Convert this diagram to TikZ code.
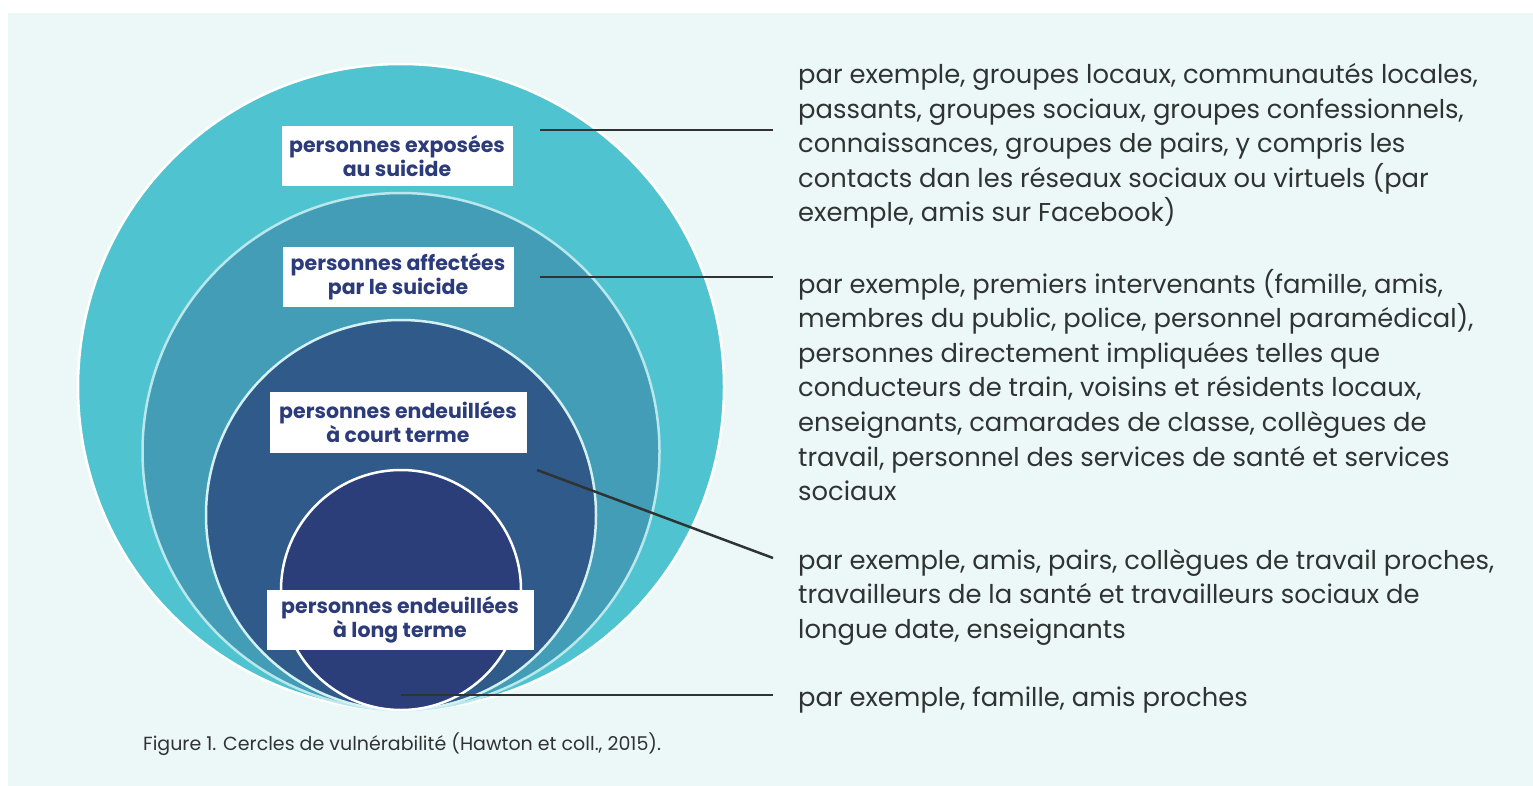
\documentclass[tikz,border=0pt]{standalone}
\usepackage{fontspec}
\setmainfont{Poppins}
\usepackage{tikz}

\definecolor{bgcol}{HTML}{ECF8F8}
\definecolor{ringa}{HTML}{4FC4D0}
\definecolor{ringb}{HTML}{439DB6}
\definecolor{ringc}{HTML}{305A8A}
\definecolor{ringd}{HTML}{2B3E79}
\definecolor{labcol}{HTML}{2C3B7A}
\definecolor{txtcol}{HTML}{303333}

\tikzset{
	ringlabel/.style={fill=white,text=labcol,align=center,inner sep=0pt,
		font=\fontsize{20.5}{24}\selectfont\bfseries},
	example/.style={anchor=west,align=left,text=txtcol,inner sep=0pt,
		font=\fontsize{25.8}{34.6}\selectfont},
	pointer/.style={draw=txtcol,line width=2.5pt}
}

\begin{document}
\begin{tikzpicture}[x=1pt,y=-1pt]
	\useasboundingbox (0,0) rectangle (1533,786);
	\fill[bgcol] (8,13) rectangle (1533,786);

	\filldraw[fill=ringa,draw=white,line width=2.5pt]          (401,387) circle[radius=323pt];
	\filldraw[fill=ringb,draw=ringa!40!white,line width=2.5pt] (401,451.5) circle[radius=258.5pt];
	\filldraw[fill=ringc,draw=ringa!25!white,line width=2.5pt] (401,515) circle[radius=195pt];
	\filldraw[fill=ringd,draw=white,line width=2.5pt]          (401,590) circle[radius=120pt];

	\coordinate (pa) at (540,130);
	\coordinate (pb) at (540,277);
	\coordinate (pc) at (537,470);
	\coordinate (pd) at (401,695);
	\coordinate (qa) at (773,130);
	\coordinate (qb) at (773,277);
	\coordinate (qc) at (773,558);
	\coordinate (qd) at (773,695);

	\path[pointer] (pa) edge (qa);
	\path[pointer] (pb) edge (qb);
	\path[pointer] (pc) edge (qc);
	\path[pointer] (pd) edge (qd);

	\node[ringlabel,minimum width=231pt,minimum height=60pt] (la) at (397,156) {personnes exposées\\au suicide};
	\node[ringlabel,minimum width=231pt,minimum height=60pt] (lb) at (398,277) {personnes affectées\\par le suicide};
	\node[ringlabel,minimum width=257pt,minimum height=61pt] (lc) at (398,422) {personnes endeuillées\\à court terme};
	\node[ringlabel,minimum width=267pt,minimum height=60pt] (ld) at (400,620) {personnes endeuillées\\à long terme};

	\node[example] (ta) at (798,146) {par exemple, groupes locaux, communautés locales,\\passants, groupes sociaux, groupes confessionnels,\\connaissances, groupes de pairs, y compris les\\contacts dan les réseaux sociaux ou virtuels (par\\exemple, amis sur Facebook)};
	\node[example] (tb) at (798,385) {par exemple, premiers intervenants (famille, amis,\\membres du public, police, personnel paramédical),\\personnes directement impliquées telles que\\conducteurs de train, voisins et résidents locaux,\\enseignants, camarades de classe, collègues de\\travail, personnel des services de santé et services\\sociaux};
	\node[example] (tc) at (798,597) {par exemple, amis, pairs, collègues de travail proches,\\travailleurs de la santé et travailleurs sociaux de\\longue date, enseignants};
	\node[example] (td) at (798,700) {par exemple, famille, amis proches};

	\node[anchor=west,inner sep=0pt,text=txtcol,font=\fontsize{19}{22}\selectfont] (cap) at (143,744) {Figure 1. Cercles de vulnérabilité (Hawton et coll., 2015).};
\end{tikzpicture}
\end{document}
